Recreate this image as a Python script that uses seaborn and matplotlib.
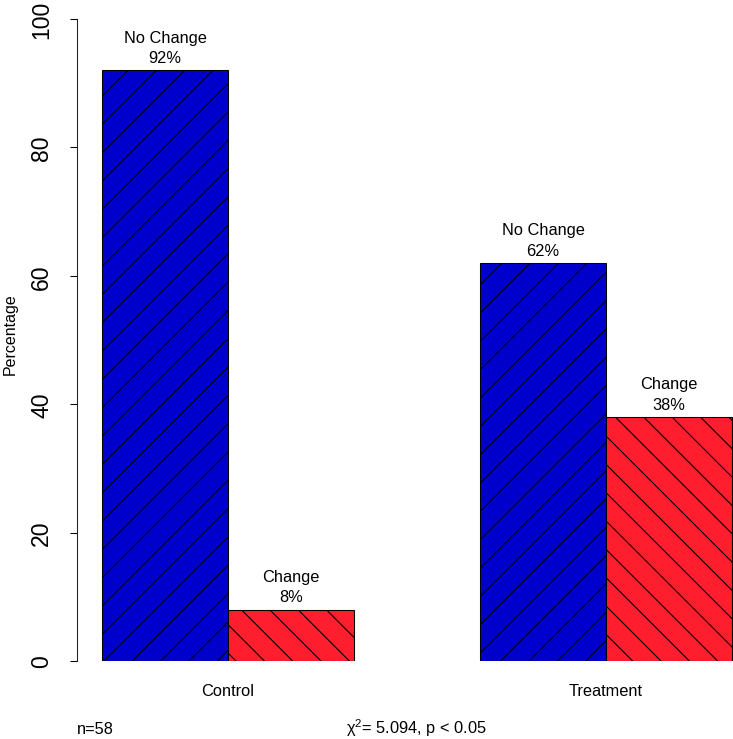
import pandas as pd
import matplotlib
matplotlib.use('Agg')
import matplotlib.pyplot as plt
import seaborn as sns

## data
groups = ['Control', 'Control', 'Treatment', 'Treatment']
outcomes = ['No Change', 'Change', 'No Change', 'Change']
percents = [92, 8, 62, 38]
group_order = ['Control', 'Treatment']
outcome_order = ['No Change', 'Change']
y_ticks = [0, 20, 40, 60, 80, 100]
n_total = 58
chi_sq = 5.094

bar_colors = ['#0000CD', '#FF1E2D']
bar_hatches = ['//', '\\\\']

df = pd.DataFrame({'group': groups, 'outcome': outcomes, 'pct': percents})

sns.set_style('ticks')
plt.rcParams['font.family'] = ['Liberation Sans', 'DejaVu Sans']
plt.rcParams['text.color'] = 'black'
plt.rcParams['axes.labelcolor'] = 'black'
plt.rcParams['xtick.color'] = 'black'
plt.rcParams['ytick.color'] = 'black'
plt.rcParams['hatch.linewidth'] = 0.45
plt.rcParams['mathtext.fontset'] = 'custom'
plt.rcParams['mathtext.rm'] = 'Liberation Sans'

# dpi picked so the hatch spacing matches the R plot (~28px)
DPI = 170
fig = plt.figure(figsize=(733 / DPI, 740 / DPI), dpi=DPI)
ax = fig.add_axes([77 / 733, 78 / 740, 656 / 733, 642 / 740])

sns.barplot(data=df, x='group', y='pct', hue='outcome',
            order=group_order, hue_order=outcome_order,
            palette=bar_colors, saturation=1, width=2 / 3,
            edgecolor='black', linewidth=0.45, legend=False, ax=ax)

for i, cont in enumerate(ax.containers):
    for p in cont:
        p.set_hatch(bar_hatches[i])
    labs = [f'{outcome_order[i]}\n{int(round(v))}%' for v in cont.datavalues]
    ax.bar_label(cont, labels=labs, padding=2.3, fontsize=6.95,
                 linespacing=1.45, clip_on=False, color='black')

ax.set_xlim(-0.3995, 1.336)
ax.set_ylim(0, 100)

for s in ['top', 'right', 'bottom']:
    ax.spines[s].set_visible(False)
ax.spines['left'].set_bounds(0, 100)
ax.spines['left'].set_linewidth(0.45)
ax.spines['left'].set_color('#222222')

ax.set_yticks(y_ticks)
ax.tick_params(axis='y', length=2.96, width=0.45, pad=7.2,
               labelsize=9.74, labelrotation=90)
for t in ax.get_yticklabels():
    t.set_va('center')
ax.tick_params(axis='x', length=0, pad=9.3, labelsize=6.95)

ax.set_xlabel('')
ax.set_ylabel('Percentage', fontsize=6.8)
ax.yaxis.set_label_coords(-0.091, 0.51)

fig.text(77 / 733, 1 - 734 / 740, f'n={n_total}', fontsize=6.95,
         ha='left', va='baseline')
fig.text(416 / 733, 1 - 734 / 740, 'χ$^{2}$= ' + f'{chi_sq:.3f}, p < 0.05',
         fontsize=6.95, ha='center', va='baseline')

fig.savefig('out.png', dpi=DPI)
